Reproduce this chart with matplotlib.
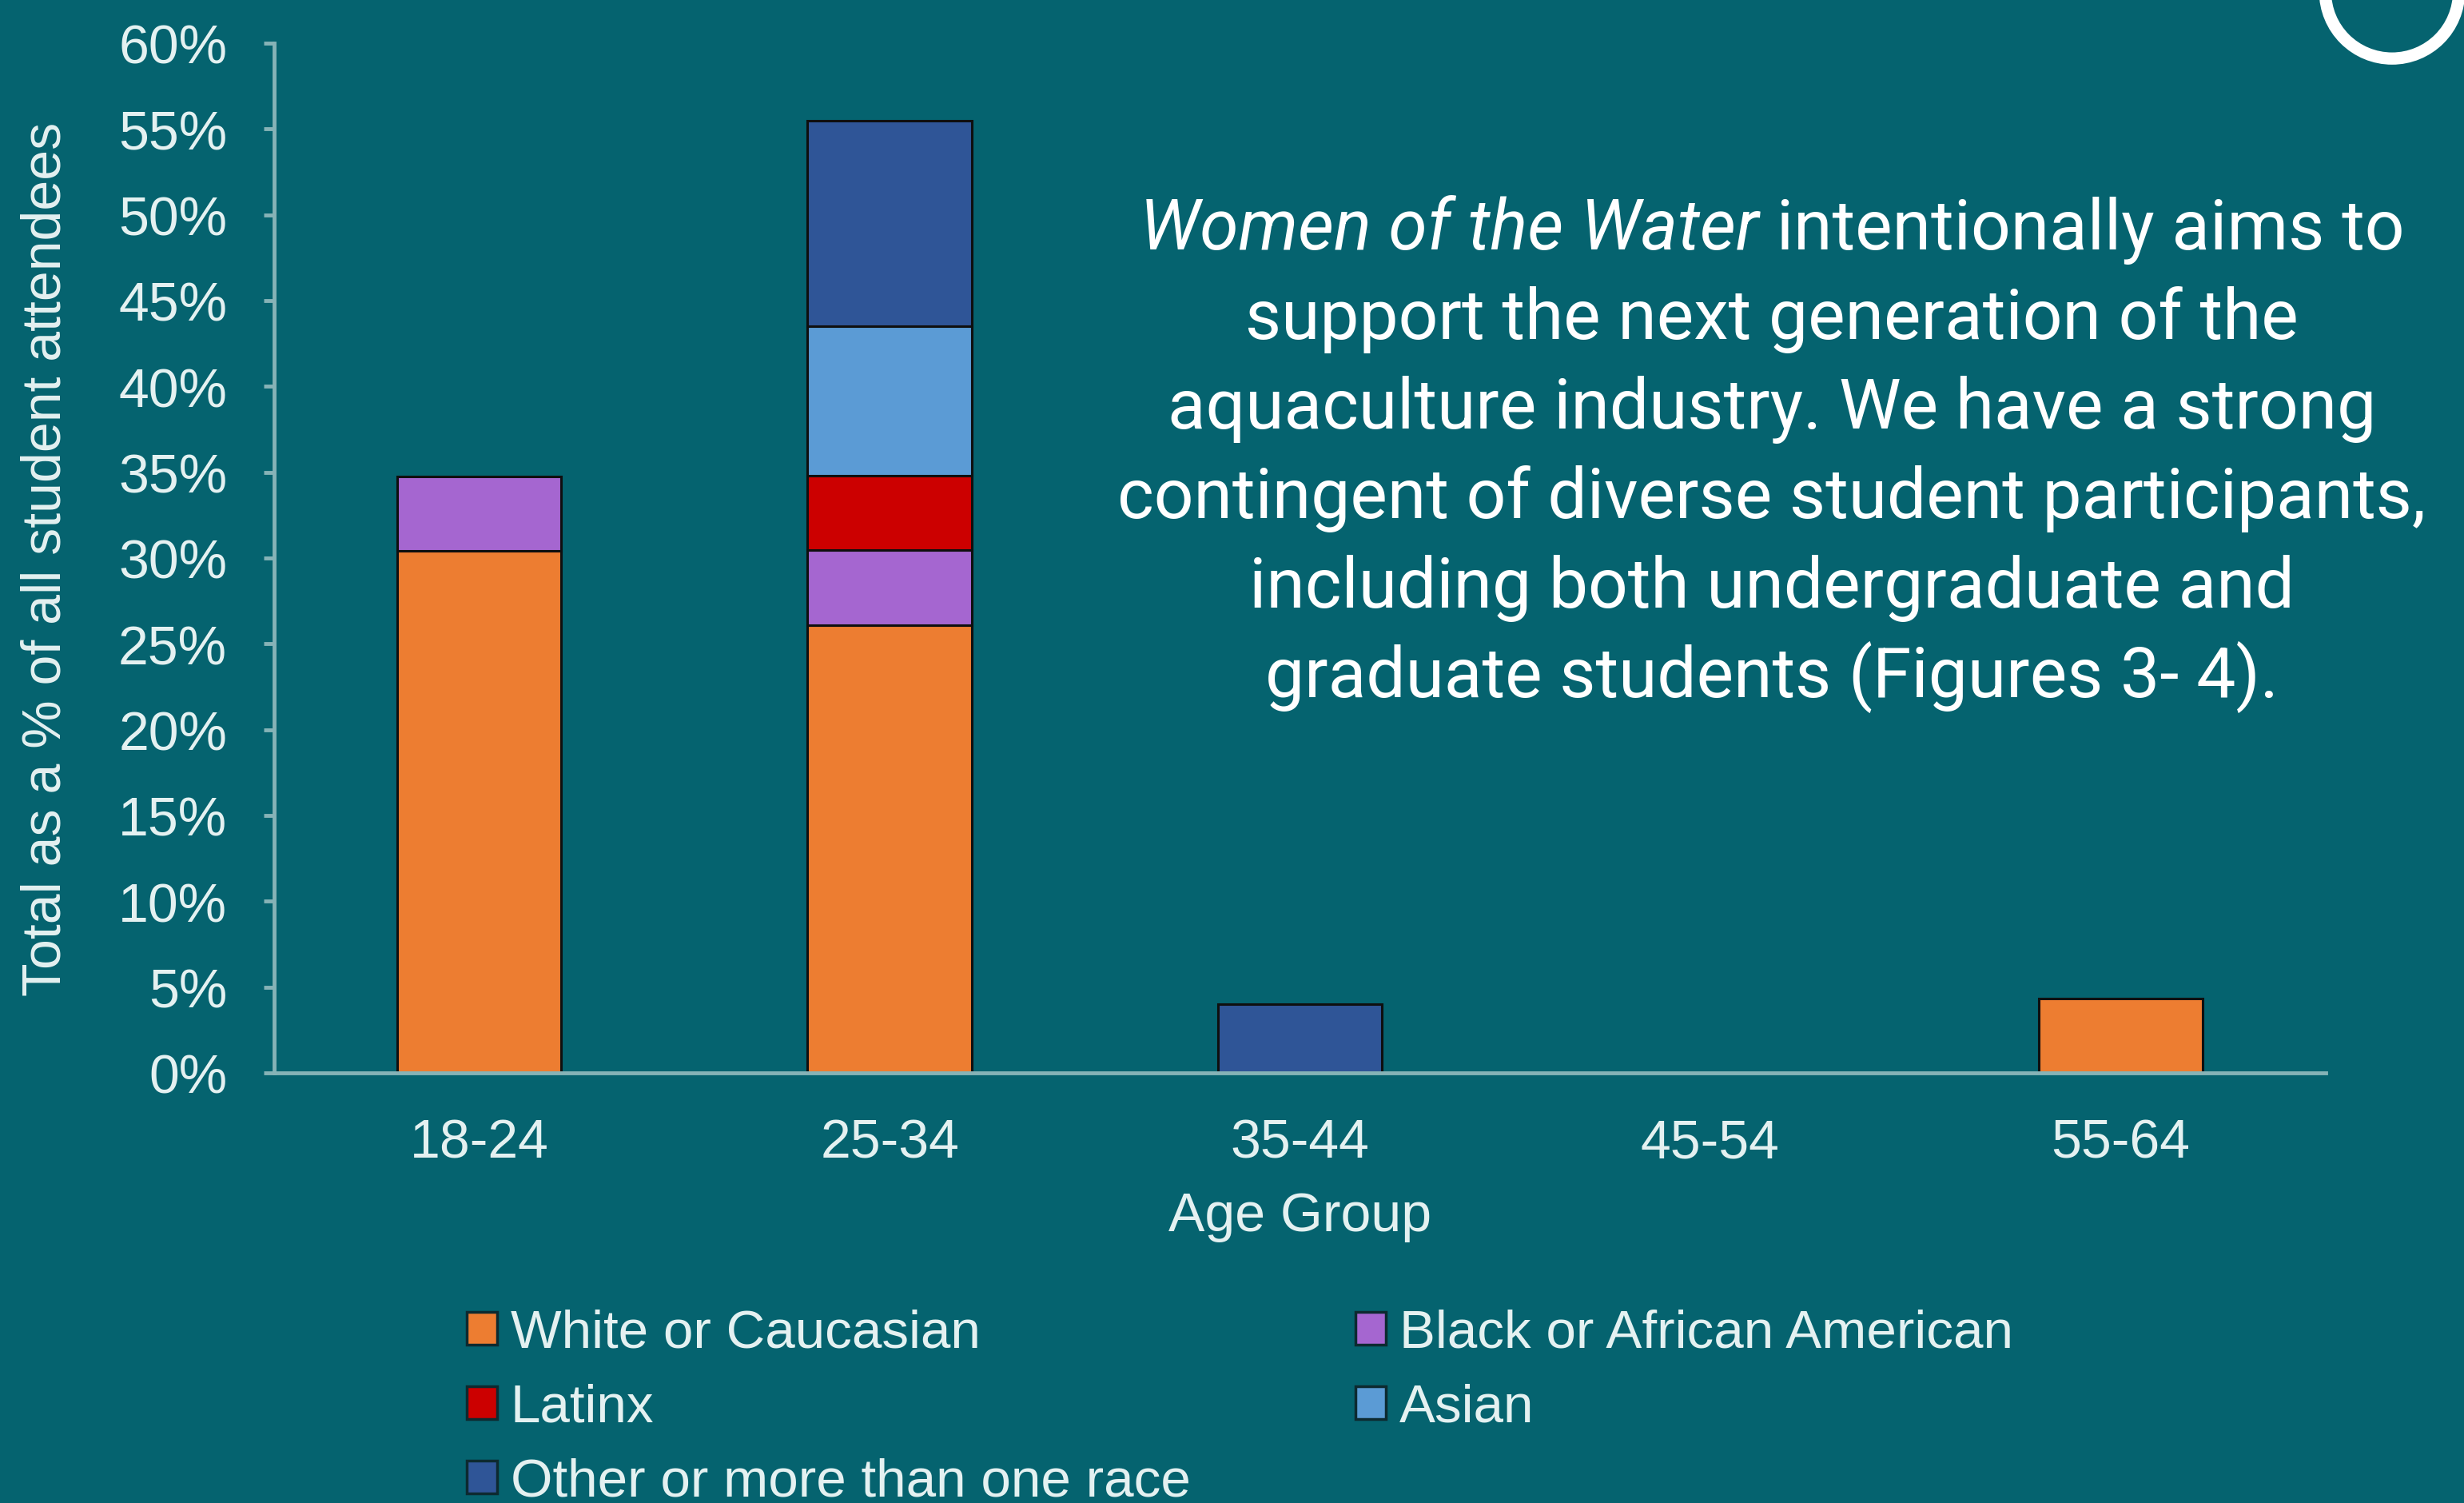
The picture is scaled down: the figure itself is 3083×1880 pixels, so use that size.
import matplotlib
matplotlib.use("Agg")
import matplotlib.pyplot as plt
import numpy as np
from matplotlib.patches import Patch, Ellipse

# Share of student attendees (%) by age group, stacked by race/ethnicity
age_groups = ["18-24", "25-34", "35-44", "45-54", "55-64"]
white = [30.4, 26.1, 0, 0, 4.35]
black = [4.35, 4.35, 0, 0, 0]
latinx = [0, 4.35, 0, 0, 0]
asian = [0, 8.7, 0, 0, 0]
other = [0, 12.0, 4.0, 0, 0]

series = [white, black, latinx, asian, other]
series_names = ["White or Caucasian", "Black or African American", "Latinx",
                "Asian", "Other or more than one race"]
series_colors = ["#ed7d31", "#a566d0", "#cc0000", "#5b9bd5", "#2f5597"]
y_ticks = [0, 5, 10, 15, 20, 25, 30, 35, 40, 45, 50, 55, 60]

blurb_lines = [
    "support the next generation of the",
    "aquaculture industry. We have a strong",
    "contingent of diverse student participants,",
    "including both undergraduate and",
    "graduate students (Figures 3- 4).",
]

bg = "#05636f"
axis_col = "#86b3b7"
txt_col = "#e4f1f1"
W, H = 3083, 1881

plt.rcParams["font.family"] = ["Liberation Sans", "DejaVu Sans"]

fig = plt.figure(figsize=(W / 100, H / 100), dpi=100, facecolor=bg)
ax = fig.add_axes([343 / W, 1 - 1343 / H, (2910 - 343) / W, (1343 - 55) / H])
ax.set_facecolor(bg)

x = np.arange(len(age_groups))
bottom = np.zeros(len(age_groups))
for vals, name, col in zip(series, series_names, series_colors):
    vals = np.array(vals, dtype=float)
    lw = np.where(vals > 0, 2.2, 0.0)
    ax.bar(x, vals, 0.4, bottom=bottom, color=col, edgecolor="#0f0f0f",
           linewidth=lw, label=name)
    bottom += vals

ax.set_xlim(-0.5, 4.5)
ax.set_ylim(0, 60)
ax.set_xticks(x)
ax.set_xticklabels(age_groups)
ax.set_yticks(y_ticks)
ax.set_yticklabels([f"{v}%" for v in y_ticks])

for side in ["top", "right"]:
    ax.spines[side].set_visible(False)
for side in ["left", "bottom"]:
    ax.spines[side].set_color(axis_col)
    ax.spines[side].set_linewidth(3.5)

ax.tick_params(axis="y", length=9.4, width=3.5, color=axis_col, pad=33,
               labelsize=49, labelcolor=txt_col)
ax.tick_params(axis="x", length=0, pad=40, labelsize=49, labelcolor=txt_col)

ax.set_xlabel("Age Group", fontsize=49, color=txt_col, labelpad=20)
ax.set_ylabel("Total as a % of all student attendees", fontsize=49,
              color=txt_col, va="center")
ax.yaxis.set_label_coords((58 - 343) / (2910 - 343), 0.5)

# legend laid out row by row: two columns, filled column-first
order = [0, 2, 4, 1, 3]
handles = [Patch(facecolor=series_colors[i], edgecolor="#0d2a30", linewidth=2.5)
           for i in order]
labels = [series_names[i] for i in order]
fig.legend(handles, labels, ncol=2, loc="upper left",
           bbox_to_anchor=(584 / W, 1 - 1638 / H), frameon=False, fontsize=48.5,
           handlelength=0.56, handleheight=0.56, handletextpad=0.25,
           columnspacing=3.07, labelspacing=0.46, borderpad=0, borderaxespad=0,
           labelcolor=txt_col)

# text block on the right
cx = 2217
base0 = 312
step = 112
fs = 63
r = fig.canvas.get_renderer()
t_it = fig.text(0, 1 - base0 / H, "Women of the Water", family="Roboto",
                style="italic", fontsize=fs, color="white", va="baseline", ha="left")
t_rg = fig.text(0, 1 - base0 / H, " intentionally aims to", family="Roboto",
                fontsize=fs, color="white", va="baseline", ha="left")
w_it = t_it.get_window_extent(r).width
w_rg = t_rg.get_window_extent(r).width
x0 = cx - (w_it + w_rg) / 2
t_it.set_x(x0 / W)
t_rg.set_x((x0 + w_it) / W)
for i, line in enumerate(blurb_lines):
    fig.text(cx / W, 1 - (base0 + step * (i + 1)) / H, line, family="Roboto",
             fontsize=fs, color="white", va="baseline", ha="center")

# white ring in the top-right corner
ring = Ellipse((2993 / W, 1 + 9.5 / H), 2 * 83.7 / W, 2 * 83.7 / H,
               transform=fig.transFigure, facecolor="none", edgecolor="white",
               linewidth=11, clip_on=False)
fig.patches.append(ring)

fig.savefig("out.png", dpi=100, facecolor=bg)
